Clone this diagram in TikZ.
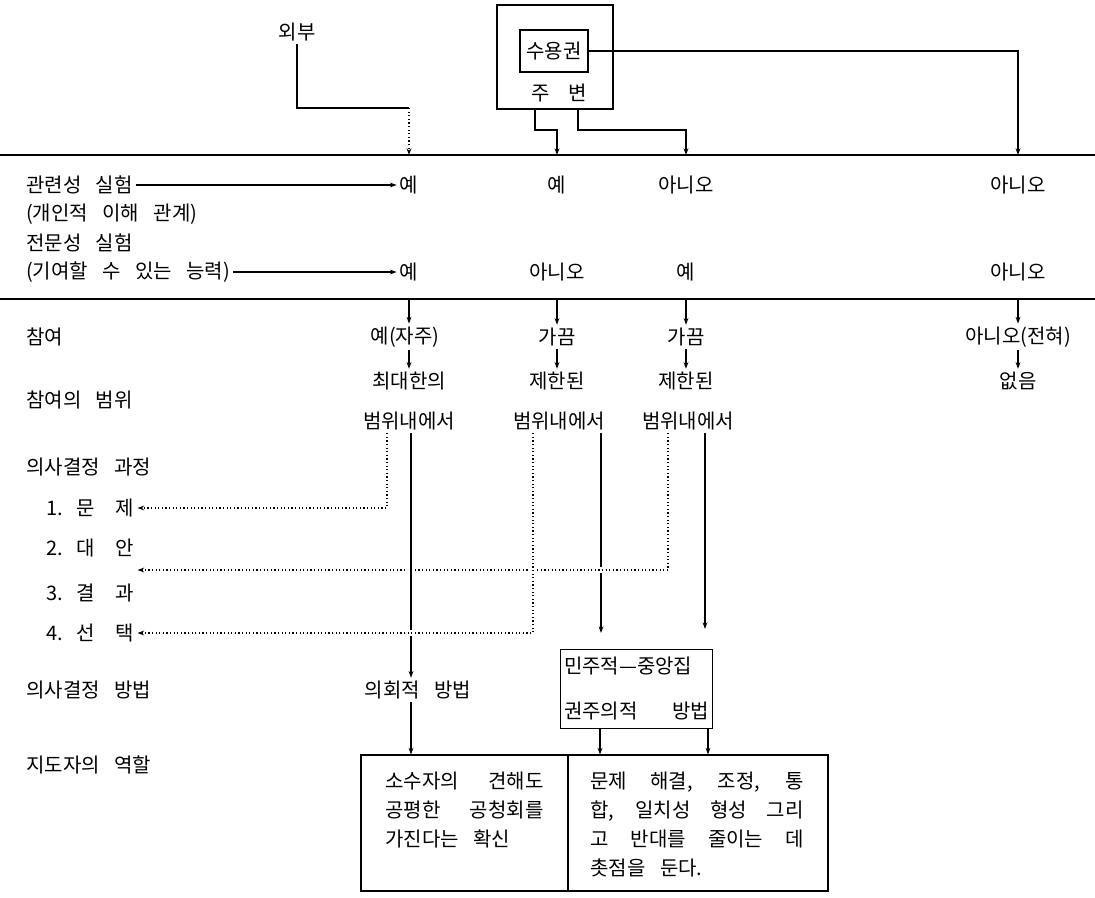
\documentclass[tikz,border=0pt]{standalone}
\usepackage{fontspec}
\setmainfont{Noto Sans CJK KR}[WordSpace=3.2]
\usetikzlibrary{arrows.meta,positioning,calc}

\begin{document}
\begin{tikzpicture}[x=0.75pt,y=-0.75pt,>={Stealth[length=5pt,width=3.6pt]},line width=0.8pt,
  every node/.style={font=\fontsize{15}{20}\selectfont,inner sep=2pt},
  lbl/.style={anchor=west},
  dots/.style={dash pattern=on 0.9pt off 1.8pt},
  halo/.style={preaction={draw=white,line width=5pt,solid,arrows=-}},
  cell/.style={anchor=north west,align=left,inner sep=0pt,font=\fontsize{15}{21.75}\selectfont}]
\useasboundingbox (0,0) rectangle (1095,897);
\node (wb) at (297,32) {외부};
\node[draw,minimum width=87pt,minimum height=78pt,inner sep=0pt] (jb) at (555,57) {};
\node[draw,minimum width=51pt,minimum height=31.5pt,inner sep=0pt] (sy) at (554,51) {수용권};
\node (jv) at (559,93) {주\hspace{14pt}변};
\coordinate (a1) at (409,155);
\coordinate (a2) at (557,155);
\coordinate (a3) at (686,155);
\coordinate (a4) at (1018,155);
\coordinate (wk) at (409,108);
\draw (wb.south) |- (wk);
\draw[dots,->] (wk) -- (a1);
\draw (sy.east) -- (sy.east -| jb.east);
\draw[->] (sy.east -| jb.east) -| (a4);
\draw[->] (535,0 |- jb.south) |- (557,130) -- (a2);
\draw[->] (578,0 |- jb.south) |- (686,130) -- (a3);
\draw (0,155) -- (1095,155);
\draw (0,299) -- (1095,299);
\node[lbl] (gw) at (23,185) {관련성 실험};
\node (r1a) at (409,185) {예};
\node (r1b) at (557,185) {예};
\node (r1c) at (686,185) {아니오};
\node (r1d) at (1018,185) {아니오};
\node[lbl] (gi) at (23,214) {(개인적 이해 관계)};
\node[lbl] (jm) at (23,243) {전문성 실험};
\node[lbl] (gn) at (23,272) {(기여할 수 있는 능력)};
\node (r2a) at (409,272) {예};
\node (r2b) at (557,272) {아니오};
\node (r2c) at (686,272) {예};
\node (r2d) at (1018,272) {아니오};
\draw[->] (gw.east) -- (r1a.west);
\draw[->] (gn.east) -- (r2a.west);
\coordinate (d1) at (409,299);
\coordinate (d2) at (557,299);
\coordinate (d3) at (686,299);
\coordinate (d4) at (1018,299);
\node[lbl] (cy) at (23,337) {참여};
\node (p1) at (405,337) {예(자주)};
\node (p2) at (557,337) {가끔};
\node (p3) at (686,337) {가끔};
\node (p4) at (1018,337) {아니오(전혀)};
\draw[->] (d1) -- (d1 |- p1.north);
\draw[->] (d2) -- (p2.north);
\draw[->] (d3) -- (p3.north);
\draw[->] (d4) -- (p4.north);
\node (q1) at (409,381) {최대한의};
\node (q2) at (557,381) {제한된};
\node (q3) at (686,381) {제한된};
\node (q4) at (1018,381) {없음};
\draw[->] (q1 |- p1.south) -- (q1.north);
\draw[->] (p2.south) -- (q2.north);
\draw[->] (p3.south) -- (q3.north);
\draw[->] (p4.south) -- (q4.north);
\node[lbl] (cb) at (23,400) {참여의 범위};
\node (b1) at (409,421) {범위내에서};
\node (b2) at (559,421) {범위내에서};
\node (b3) at (688,421) {범위내에서};
\node[lbl] (ug) at (23,467) {의사결정 과정};
\node[lbl] (m1) at (43,508) {1.\hspace{10pt}문\hspace{16pt}제};
\node[lbl] (m2) at (43,548) {2.\hspace{10pt}대\hspace{16pt}안};
\node[lbl] (m3) at (43,593) {3.\hspace{10pt}결\hspace{16pt}과};
\node[lbl] (m4) at (43,633) {4.\hspace{10pt}선\hspace{16pt}택};
\coordinate (m2a) at (m2.east |- 0,570);
\node[lbl] (ub) at (23,690) {의사결정 방법};
\node (u1) at (418,690) {의회적 방법};
\node[draw,inner xsep=2.5pt,inner ysep=6pt,text width=108.75pt,align=left,font=\fontsize{15}{33.75}\selectfont] (mj) at (636.5,689)
  {민주적—중앙집\\ \makebox[108.75pt][s]{권주의적\hfill 방법}};
\draw[->,shorten >=12pt] (601,0 |- b2.south) -- (601,0 |- mj.north);
\draw[->,shorten >=15pt] (705,0 |- b3.south) -- (705,0 |- mj.north);
\draw[dots,->] (387,0 |- b1.south) |- (m1.east);
\draw[dots,halo,->] (668,0 |- b3.south) |- (m2a);
\draw[halo,->] (411,0 |- b1.south) -- (411,0 |- u1.north);
\draw[dots,halo,->] (533,0 |- b2.south) |- (m4.east);
\node[lbl] (jd) at (23,765) {지도자의 역할};
\node[draw,minimum width=350.25pt,minimum height=102pt,inner sep=0pt] (lb) at (594.5,823) {};
\draw (568,0 |- lb.north) -- (568,0 |- lb.south);
\draw[->] (411,0 |- u1.south) -- (411,0 |- lb.north);
\draw[->] (600,0 |- mj.south) -- (600,0 |- lb.north);
\draw[->] (708,0 |- mj.south) -- (708,0 |- lb.north);
\node[cell] (lt) at (385,771) {\makebox[118.5pt][s]{소수자의 견해도}\\ \makebox[118.5pt][s]{공평한 공청회를}\\ 가진다는 확신};
\node[cell] (rt) at (590,771) {\makebox[159.75pt][s]{문제 해결, 조정, 통}\\ \makebox[159.75pt][s]{합, 일치성 형성 그리}\\ \makebox[159.75pt][s]{고 반대를 줄이는 데}\\ 촛점을 둔다.};
\end{tikzpicture}
\end{document}
